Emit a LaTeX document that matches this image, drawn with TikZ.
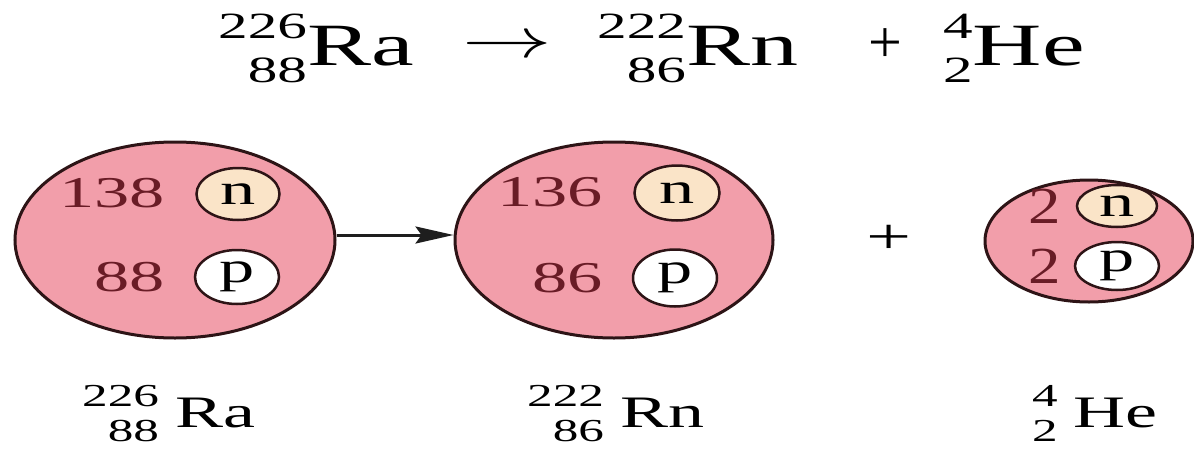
\documentclass[tikz,border=0pt]{standalone}
\usepackage{fontspec}
\setmainfont{Liberation Serif}
\usepackage{graphicx}
\usetikzlibrary{shapes.geometric,arrows.meta}
\definecolor{nucfill}{RGB}{242,158,170}
\definecolor{nfill}{RGB}{250,228,200}
\definecolor{edgecol}{RGB}{45,20,22}
\definecolor{numcol}{RGB}{105,28,38}
\definecolor{arrcol}{RGB}{30,30,30}
\newcommand{\sx}[2][1.6]{\scalebox{#1}[1]{#2}}
\newcommand{\fs}[1]{\fontsize{#1}{#1}\selectfont}
% \iso{A}{Z}{Sym}{scriptsize}{mainsize}{raise}{lower}{gap}
\newcommand{\iso}[8]{\begingroup\fs{#4}%
  \setbox0=\hbox{#1}\setbox2=\hbox{#2}%
  \ifdim\wd0>\wd2 \dimen0=\wd0 \else \dimen0=\wd2 \fi
  \hbox to \dimen0{\hfil\raise#6\box0\llap{\lower#7\box2}}%
  \endgroup\hspace{#8}{\fs{#5}#3}}
\tikzset{
  nucleus/.style={ellipse, draw=edgecol, line width=3pt, fill=nucfill, inner sep=0pt},
  neut/.style={ellipse, draw=edgecol, line width=2.5pt, fill=nfill, inner sep=0pt, font=\fs{44pt}},
  prot/.style={neut, fill=white},
  num/.style={anchor=east, inner sep=0pt, text=numcol, font=\fs{44pt}},
  isolabel/.style={anchor=base west, inner sep=0pt},
  reacarrow/.style={draw=arrcol, line width=3pt, -{Stealth[length=38pt,width=17pt,inset=6pt]}}
}
\begin{document}
\begin{tikzpicture}[x=1pt,y=-1pt]
\useasboundingbox (0,0) rectangle (1194,450);
% title equation
\node[isolabel] (tRa) at (218,65) {\sx{\iso{226}{88}{Ra}{37pt}{60pt}{27pt}{17pt}{0pt}}};
\node[inner sep=0pt] (tarr) at (507,47) {\sx{\scalebox{5.6}{$\rightarrow$}}};
\node[isolabel] (tRn) at (597,65) {\sx{\iso{222}{86}{Rn}{37pt}{60pt}{27pt}{17pt}{0pt}}};
\node[inner sep=0pt] (tplus) at (885,46) {\fs{60pt}+};
\node[isolabel] (tHe) at (943,65) {\sx{\iso{4}{2}{He}{37pt}{60pt}{27pt}{17pt}{0pt}}};
% Ra nucleus
\node[nucleus, minimum width=320pt, minimum height=196pt] (ra) at (175,240) {};
\node[neut, minimum width=83pt, minimum height=52pt] (ran) at (238,194) {\sx{n}};
\node[prot, minimum width=84pt, minimum height=54pt] (rap) at (237,277) {\sx{p}};
\node[num] (ranum) at (165,193) {\sx{138}};
\node[num] (rapnum) at (165,277) {\sx{88}};
% Rn nucleus
\node[nucleus, minimum width=318pt, minimum height=196pt] (rn) at (614,240) {};
\node[neut, minimum width=85pt, minimum height=55pt] (rnn) at (677,193) {\sx{n}};
\node[prot, minimum width=84pt, minimum height=57pt] (rnp) at (675,278) {\sx{p}};
\node[num] (rnnum) at (603,192) {\sx{136}};
\node[num] (rnpnum) at (603,278) {\sx{86}};
% He nucleus
\node[nucleus, minimum width=208pt, minimum height=122pt] (he) at (1089,241) {};
\node[neut, minimum width=80pt, minimum height=42pt] (hen) at (1117,206) {\sx{n}};
\node[prot, minimum width=84pt, minimum height=48pt] (hep) at (1117,266) {\sx{p}};
\node[num, font=\fs{52pt}] (hennum) at (1061,206) {\sx[1.25]{2}};
\node[num, font=\fs{52pt}] (hepnum) at (1061,266) {\sx[1.25]{2}};
% arrow and plus
\draw[reacarrow] ([yshift=5pt]ra.east) -- ([yshift=5pt]rn.west);
\node[inner sep=0pt] (plus) at (889,239) {\sx{\fs{50pt}+}};
% bottom labels
\node[isolabel] (lRa) at (82,427) {\sx{\iso{226}{88}{Ra}{32pt}{45pt}{21pt}{14pt}{10pt}}};
\node[isolabel] (lRn) at (527,427) {\sx{\iso{222}{86}{Rn}{32pt}{45pt}{21pt}{14pt}{10pt}}};
\node[isolabel] (lHe) at (1032,427) {\sx{\iso{4}{2}{He}{32pt}{45pt}{21pt}{14pt}{10pt}}};
\end{tikzpicture}
\end{document}
